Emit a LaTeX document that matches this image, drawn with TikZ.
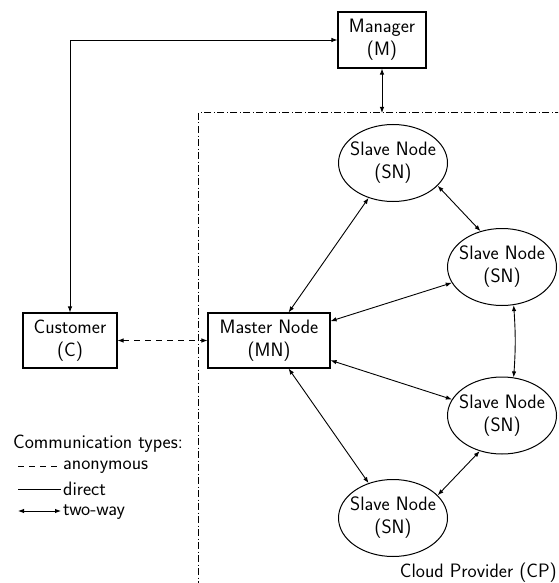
\documentclass[tikz,border=0pt]{standalone}
\usetikzlibrary{arrows.meta,shapes.geometric}
\begin{document}
\begin{tikzpicture}[x=1pt,y=-1pt,
  font=\sffamily\fontsize{19.4}{23}\selectfont,
  box/.style={draw,line width=1.1pt,inner sep=0pt,align=center},
  sn/.style={draw,ellipse,line width=1pt,minimum width=109pt,minimum height=77pt,inner xsep=-5pt,inner ysep=0pt,align=center},
  tip/.tip={Latex[length=6pt,width=4.5pt]},
  conn/.style={line width=0.9pt,tip-tip},
  anon/.style={dash pattern=on 6pt off 5pt},
  cpline/.style={line width=1pt,dash pattern=on 7pt off 2.5pt on 1pt off 2.5pt},
  lbl/.style={anchor=base west,inner sep=0pt}
]
\clip (0,0) rectangle (558,583);
% cloud provider frame
\draw[cpline] (198,113) rectangle (620,640);
\node[anchor=base east,inner sep=0pt] (cpl) at (557,577) {Cloud Provider (CP)};
\coordinate (cptop) at (382,113);
% nodes
\node[box,minimum width=88pt,minimum height=56pt] (M) at (382,40) {Manager\\(M)};
\node[box,minimum width=94pt,minimum height=55pt] (C) at (70,340.5) {Customer\\(C)};
\node[box,minimum width=122pt,minimum height=55pt] (MN) at (269,340.5) {Master Node\\(MN)};
\node[sn] (SN1) at (393,163) {Slave Node\\(SN)};
\node[sn] (SN2) at (502,267) {Slave Node\\(SN)};
\node[sn] (SN3) at (502,415.5) {Slave Node\\(SN)};
\node[sn] (SN4) at (393,518) {Slave Node\\(SN)};
% connectors
\draw[conn] (C.north) |- (M.west);
\draw[conn] (M.south) -- (cptop);
\draw[conn,anon] (C.east) -- (MN.west);
\draw[conn] (MN) -- (SN1);
\draw[conn] (MN) -- (SN2);
\draw[conn] (MN) -- (SN3);
\draw[conn] (MN) -- (SN4);
\draw[conn] (SN1.-27) -- (SN2.121);
\draw[conn] (SN2.-73) to[bend left=4] (SN3.73);
\draw[conn] (SN3.-122) -- (SN4.27);
% legend
\node[lbl] (lt) at (13,448) {Communication types:};
\coordinate (a1) at (18,466); \coordinate (a2) at (60,466);
\coordinate (d1) at (18,489); \coordinate (d2) at (61,489);
\coordinate (t1) at (18,511); \coordinate (t2) at (61,511);
\draw[line width=0.9pt,anon] (a1) -- (a2);
\draw[line width=0.9pt] (d1) -- (d2);
\draw[conn] (t1) -- (t2);
\node[lbl] (la) at (63,469) {anonymous};
\node[lbl] (ld) at (63,495) {direct};
\node[lbl] (lw) at (63,515) {two-way};
\end{tikzpicture}
\end{document}
